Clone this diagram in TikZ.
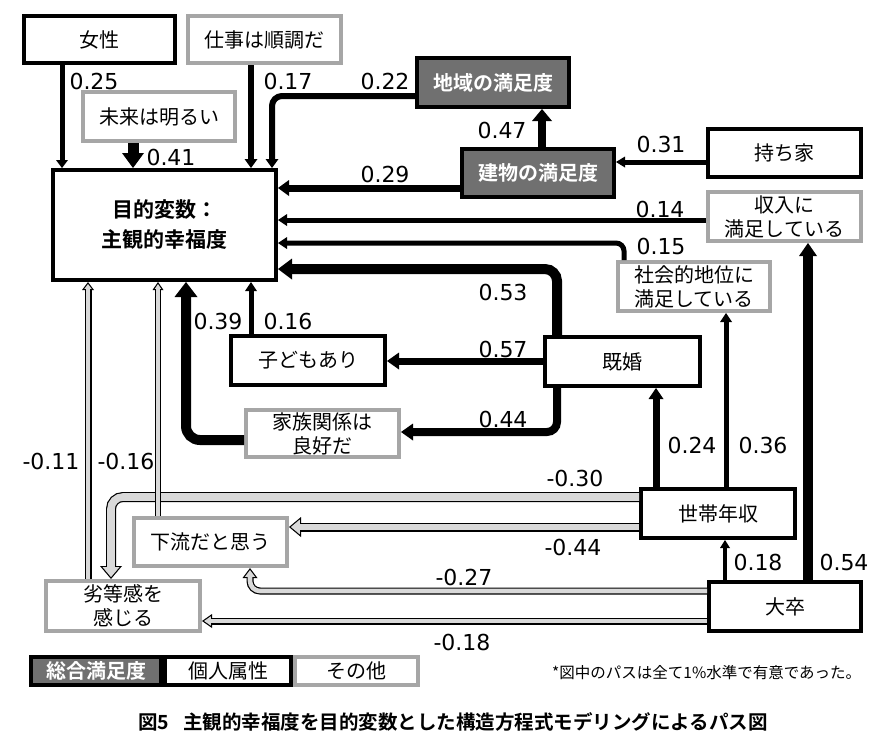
\documentclass[tikz,border=0pt]{standalone}
\usepackage{fontspec}
\setmainfont{Noto Sans CJK JP}[BoldFont={Noto Sans CJK JP Bold}]
\newfontfamily\numfont{DejaVu Sans}
\usetikzlibrary{arrows.meta}
\definecolor{bordergray}{RGB}{166,166,166}
\definecolor{darkfill}{RGB}{112,112,112}
\definecolor{bandgray}{RGB}{217,217,217}
\begin{document}
\begin{tikzpicture}[x=1pt,y=-1pt,
  jbox/.style={line width=4pt, minimum width=152pt, minimum height=48pt,
    inner sep=0pt, align=center, font=\fontsize{20}{24}\selectfont},
  bbox/.style={jbox, draw=black, fill=white},
  gbox/.style={jbox, draw=bordergray, fill=white},
  dbox/.style={jbox, draw=black, fill=darkfill, text=white,
    font=\fontsize{20}{24}\selectfont\bfseries},
  num/.style={inner sep=0pt, font=\numfont\fontsize{22}{24}\selectfont},
  pline/.style={draw=black, line width=#1},
  ahead/.style 2 args={arrows={-Triangle[width=#1,length=#2,line width=0pt]}},
  negout/.style n args={3}{draw=black, line width=#1,
    arrows={-Triangle[width=#2,length=#3,line width=0pt]}},
  negin/.style n args={4}{draw=bandgray, line width=#1,
    arrows={-Triangle[width=#2,length=#3,sep=#4,line width=0pt]}}
]
\fill[white] (0,0) rectangle (894,753);
\useasboundingbox (0,0) rectangle (894,753);

% ---------- boxes ----------
\node[bbox, minimum width=151pt, minimum height=47pt] (nF) at (99.5,39.5) {女性};
\node[gbox, minimum width=153pt, minimum height=47pt] (nW) at (264.5,39.5) {仕事は順調だ};
\node[gbox, minimum width=152pt, minimum height=49pt] (nFu) at (159,116.5) {未来は明るい};
\node[bbox, minimum width=223pt, minimum height=110pt,
  font=\fontsize{21}{30}\selectfont\bfseries] (nM) at (164.5,225) {目的変数：\\主観的幸福度};
\node[dbox, minimum width=152pt, minimum height=49pt] (nR) at (493,82.5) {地域の満足度};
\node[dbox, minimum width=152pt, minimum height=48pt] (nB) at (538,173) {建物の満足度};
\node[bbox, minimum width=153pt, minimum height=48pt] (nH) at (784.5,153) {持ち家};
\node[gbox, minimum width=153pt, minimum height=49pt] (nI) at (784.5,216.5) {収入に\\満足している};
\node[gbox, minimum width=152pt, minimum height=49pt] (nS) at (694,286.5) {社会的地位に\\満足している};
\node[bbox, minimum width=155pt, minimum height=49pt] (nMa) at (622.5,361.5) {既婚};
\node[bbox, minimum width=154pt, minimum height=49pt] (nC) at (308,360.5) {子どもあり};
\node[gbox, minimum width=153pt, minimum height=47pt] (nFa) at (322.5,433.5) {家族関係は\\良好だ};
\node[bbox, minimum width=154pt, minimum height=49pt] (nHi) at (718,513.5) {世帯年収};
\node[bbox, minimum width=152pt, minimum height=49pt] (nU) at (785,606.5) {大卒};
\node[gbox, minimum width=153pt, minimum height=48pt] (nL) at (210.5,542) {下流だと思う};
\node[gbox, minimum width=154pt, minimum height=50pt] (nIn) at (123,606) {劣等感を\\感じる};

% ---------- positive paths ----------
\draw[pline=5pt, ahead={12pt}{8pt}] (62,0 |- nF.south) -- (62,0 |- nM.north);
\draw[pline=11pt, ahead={22pt}{15pt}] (133,0 |- nFu.south) -- (133,0 |- nM.north);
\draw[pline=6pt, ahead={13pt}{9pt}] (251,0 |- nW.south) -- (251,0 |- nM.north);
\draw[pline=6pt, ahead={13pt}{9pt}, rounded corners=10pt] (nR.west |- 0,96) -- (272,96) -- (272,0 |- nM.north);
\draw[pline=7pt, ahead={16pt}{11pt}] (nB.west |- 0,188) -- (nM.east |- 0,188);
\draw[pline=8pt, ahead={20pt}{12pt}] (542,0 |- nB.north) -- (542,0 |- nR.south);
\draw[pline=5pt, ahead={11pt}{9pt}] (nH.west |- 0,162) -- (nB.east |- 0,162);
\draw[pline=5pt, ahead={12pt}{9pt}] (nI.west |- 0,220) -- (nM.east |- 0,220);
\draw[pline=5pt, ahead={12pt}{9pt}, rounded corners=8pt] (624,0 |- nS.north) -- (624,243) -- (nM.east |- 0,243);
\draw[pline=10pt, ahead={21pt}{14pt}, rounded corners=12pt] (557,0 |- nMa.north) -- (557,269) -- (nM.east |- 0,269);
\draw[pline=7pt, ahead={17pt}{12pt}] (nMa.west |- 0,361) -- (nC.east |- 0,361);
\draw[pline=8pt, ahead={17pt}{12pt}, rounded corners=10pt] (557,0 |- nMa.south) -- (557,432) -- (nFa.east |- 0,432);
\draw[pline=5pt, ahead={12pt}{9pt}] (251,0 |- nC.north) -- (251,0 |- nM.south);
\draw[pline=10pt, ahead={23pt}{15pt}, rounded corners=14pt] (nFa.west |- 0,440) -- (186,440) -- (186,0 |- nM.south);
\draw[pline=7pt, ahead={15pt}{11pt}] (656,0 |- nHi.north) -- (656,0 |- nMa.south);
\draw[pline=5pt, ahead={12pt}{9pt}] (726,0 |- nHi.north) -- (726,0 |- nS.south);
\draw[pline=10pt, ahead={18pt}{13pt}] (808,0 |- nU.north) -- (808,0 |- nI.south);
\draw[pline=4pt, ahead={10pt}{8pt}] (725,0 |- nU.north) -- (725,0 |- nHi.south);

% ---------- negative paths ----------
\draw[negout={10pt}{22pt}{13pt}, rounded corners=12pt] (nHi.west |- 0,497) -- (111,497) -- (111,0 |- nIn.north);
\draw[negin={7.6pt}{16.8pt}{9.9pt}{1.9pt}, rounded corners=12pt] (nHi.west |- 0,497) -- (111,497) -- (111,0 |- nIn.north);
\draw[negout={9pt}{20pt}{12pt}] (nHi.west |- 0,527) -- (nL.east |- 0,527);
\draw[negin={6.6pt}{14.9pt}{8.9pt}{1.9pt}] (nHi.west |- 0,527) -- (nL.east |- 0,527);
\draw[negout={7pt}{15pt}{10pt}, rounded corners=10pt] (nU.west |- 0,591) -- (250,591) -- (250,0 |- nL.south);
\draw[negin={4.6pt}{10.2pt}{6.8pt}{2pt}, rounded corners=10pt] (nU.west |- 0,591) -- (250,591) -- (250,0 |- nL.south);
\draw[negout={7pt}{14pt}{10pt}] (nU.west |- 0,621) -- (nIn.east |- 0,621);
\draw[negin={4.6pt}{9.4pt}{6.7pt}{2.1pt}] (nU.west |- 0,621) -- (nIn.east |- 0,621);
\draw[negout={7pt}{12pt}{8pt}] (88,0 |- nIn.north) -- (88,0 |- nM.south);
\draw[negin={4.6pt}{7.2pt}{4.8pt}{2pt}] (88,0 |- nIn.north) -- (88,0 |- nM.south);
\draw[negout={5.5pt}{11pt}{8pt}] (158,0 |- nL.north) -- (158,0 |- nM.south);
\draw[negin={3.1pt}{6.4pt}{4.7pt}{2.1pt}] (158,0 |- nL.north) -- (158,0 |- nM.south);

% ---------- coefficients ----------
\node[num] (c1) at (94,81) {0.25};
\node[num] (c2) at (288,81) {0.17};
\node[num] (c3) at (385,81) {0.22};
\node[num] (c4) at (171,157) {0.41};
\node[num] (c5) at (385,174) {0.29};
\node[num] (c6) at (502,130) {0.47};
\node[num] (c7) at (661,144) {0.31};
\node[num] (c8) at (660,209) {0.14};
\node[num] (c9) at (661,246) {0.15};
\node[num] (c10) at (503,292) {0.53};
\node[num] (c11) at (503,349) {0.57};
\node[num] (c12) at (503,419) {0.44};
\node[num] (c13) at (218,321) {0.39};
\node[num] (c14) at (288,321) {0.16};
\node[num] (c15) at (692,445) {0.24};
\node[num] (c16) at (763,445) {0.36};
\node[num] (c17) at (758,562) {0.18};
\node[num] (c18) at (844,562) {0.54};
\node[num] (c19) at (575,478) {-0.30};
\node[num] (c20) at (573,547) {-0.44};
\node[num] (c21) at (464,577) {-0.27};
\node[num] (c22) at (462,642) {-0.18};
\node[num] (c23) at (51,461) {-0.11};
\node[num] (c24) at (126,461) {-0.16};

% ---------- legend ----------
\node[gbox, minimum width=123pt, minimum height=28pt] (lg3) at (356.5,671) {その他};
\node[dbox, minimum width=130pt, minimum height=28pt] (lg1) at (96,671) {総合満足度};
\node[bbox, minimum width=126pt, minimum height=28pt] (lg2) at (228,671) {個人属性};
\node[anchor=west, inner sep=0pt, font=\fontsize{15.5}{17}\selectfont] (fn) at (552,673) {*図中のパスは全て1\%水準で有意であった。};
\node[inner sep=0pt, font=\fontsize{19.5}{22}\selectfont\bfseries] (cap) at (453,722) {図5\hspace{0.7em}主観的幸福度を目的変数とした構造方程式モデリングによるパス図};
\end{tikzpicture}
\end{document}
